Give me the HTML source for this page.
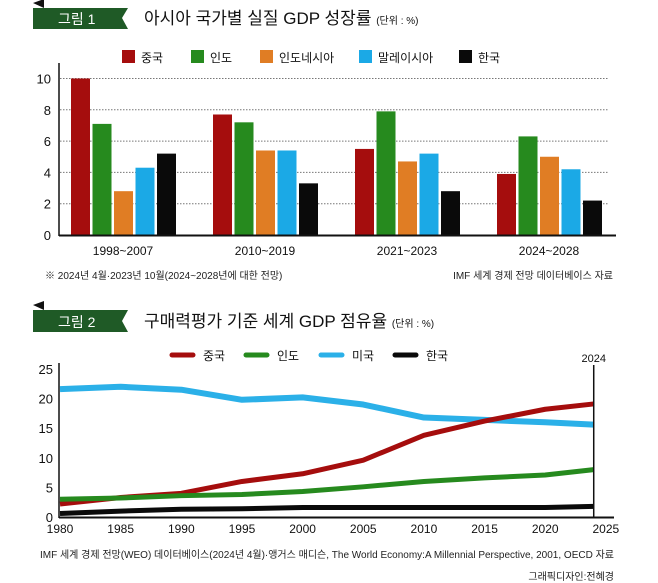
<!DOCTYPE html>
<html><head><meta charset="utf-8">
<style>
body{margin:0;background:#fff;width:658px;height:583px;overflow:hidden;font-family:"Liberation Sans","Noto Sans CJK KR",sans-serif;}
svg{display:block}
text{font-family:"Liberation Sans","Noto Sans CJK KR",sans-serif;}
</style></head>
<body>
<svg id="c" width="658" height="583">
  <g>
    <polygon points="33,3 44,-1 44,8" fill="#111"/>
    <polygon points="33,8 128,8 122,18 128,29 33,29" fill="#1f5a26"/>
    <text x="58" y="24" font-size="14" fill="#fff">그림 1</text>
  </g>
  <text x="144" y="24" font-size="17" fill="#111">아시아 국가별 실질 GDP 성장률 <tspan font-size="10">(단위 : %)</tspan></text>
  <g id="ch1"></g>
  <text x="45" y="279" font-size="10" fill="#222">※ 2024년 4월·2023년 10월(2024~2028년에 대한 전망)</text>
  <text x="613" y="279" font-size="10" fill="#222" text-anchor="end">IMF 세계 경제 전망 데이터베이스 자료</text>

  <g>
    <polygon points="33,305 44,301 44,310" fill="#111"/>
    <polygon points="33,310 128,310 122,321 128,332 33,332" fill="#1f5a26"/>
    <text x="58" y="327" font-size="14" fill="#fff">그림 2</text>
  </g>
  <text x="144" y="327" font-size="17" fill="#111">구매력평가 기준 세계 GDP 점유율 <tspan font-size="10">(단위 : %)</tspan></text>
  <g id="ch2"></g>
  <text x="614" y="558" font-size="10" fill="#222" text-anchor="end">IMF 세계 경제 전망(WEO) 데이터베이스(2024년 4월)·앵거스 매디슨, The World Economy:A Millennial Perspective, 2001, OECD 자료</text>
  <text x="614" y="580" font-size="10" fill="#222" text-anchor="end">그래픽디자인:전혜경</text>
</svg>
<script>
const NS='http://www.w3.org/2000/svg';
function mk(p,t,a){const e=document.createElementNS(NS,t);for(const k in a)e.setAttribute(k,a[k]);p.appendChild(e);return e;}

// Chart 1 data
const c1Groups=['1998~2007','2010~2019','2021~2023','2024~2028'];
const c1Series=['중국','인도','인도네시아','말레이시아','한국'];
const c1Colors=['#a50d0d','#268a1e','#e07d24','#1ba9e6','#0a0a0a'];
const china1=[10,7.7,5.5,3.9];
const india1=[7.1,7.2,7.9,6.3];
const indonesia1=[2.8,5.4,4.7,5.0];
const malaysia1=[4.3,5.4,5.2,4.2];
const korea1=[5.2,3.3,2.8,2.2];
const c1Ticks=[0,2,4,6,8,10];

const g1=document.getElementById('ch1');
const y1=v=>235-v*15.65;
const gx=i=>71+i*142;
c1Ticks.forEach(t=>{
  if(t>0){const l=mk(g1,'line',{x1:60,x2:609,y1:y1(t),y2:y1(t),stroke:'#777','stroke-width':1,'stroke-dasharray':'1.5,1.5'});
  
  }
  const tx=mk(g1,'text',{x:51,y:y1(t)+5,'font-size':13,'text-anchor':'end',fill:'#111'});tx.textContent=t;
  
  
});
const all1=[china1,india1,indonesia1,malaysia1,korea1];
all1.forEach((arr,s)=>{
  arr.forEach((v,i)=>{
    const x=gx(i)+s*21.5;
    const r=mk(g1,'rect',{x:x,y:y1(v),width:19,height:235-y1(v),fill:c1Colors[s]});
    
    
  });
});
const ax=mk(g1,'line',{x1:59,x2:59,y1:63,y2:236,stroke:'#111','stroke-width':1.5});


const bx=mk(g1,'line',{x1:59,x2:616,y1:235.5,y2:235.5,stroke:'#111','stroke-width':2});


c1Groups.forEach((g,i)=>{
  const t=mk(g1,'text',{x:gx(i)+52,y:255,'font-size':12,'text-anchor':'middle',fill:'#111'});t.textContent=g;
  
  
});
const lx1=[122,191,260,359,459];
c1Series.forEach((s,i)=>{
  const r=mk(g1,'rect',{x:lx1[i],y:50,width:13,height:13,fill:c1Colors[i]});
  
  
  const t=mk(g1,'text',{x:lx1[i]+19,y:62,'font-size':12,fill:'#111'});t.textContent=s;
  
  
});

// Chart 2 data
const years=[1980,1985,1990,1995,2000,2005,2010,2015,2020,2024];
const c2Names=['중국','인도','미국','한국'];
const c2Colors=['#a50d0d','#268a1e','#2bb0e8','#0a0a0a'];
const china2=[2.2,3.3,4.0,6.0,7.3,9.6,13.8,16.2,18.2,19.1];
const india2=[3.0,3.2,3.6,3.8,4.3,5.1,6.0,6.6,7.1,8.0];
const us2=[21.6,22.0,21.5,19.8,20.2,19.0,16.8,16.4,16.0,15.6];
const korea2=[0.6,1.0,1.3,1.4,1.6,1.6,1.6,1.6,1.6,1.8];
const xTicks2=[1980,1985,1990,1995,2000,2005,2010,2015,2020,2025];
const yTicks2=[0,5,10,15,20,25];

const g2=document.getElementById('ch2');
const X=yr=>60+(yr-1980)*12.13;
const Y=v=>517-v*5.92;
yTicks2.forEach(t=>{
  const tx=mk(g2,'text',{x:53,y:Y(t)+5,'font-size':13,'text-anchor':'end',fill:'#111'});tx.textContent=t;
  
  
});
xTicks2.forEach(t=>{
  const tx=mk(g2,'text',{x:X(t),y:533,'font-size':12,'text-anchor':'middle',fill:'#111'});tx.textContent=t;
  
  
});
[[us2,2,6],[china2,0,5],[india2,1,5],[korea2,3,5]].forEach(([arr,c,w])=>{
  const p=mk(g2,'polyline',{points:arr.map((v,i)=>X(years[i])+','+Y(v)).join(' '),fill:'none',stroke:c2Colors[c],'stroke-width':w,'stroke-linejoin':'round'});
  
  
});
const a2=mk(g2,'line',{x1:59,x2:59,y1:363,y2:518,stroke:'#111','stroke-width':1.5});


const b2=mk(g2,'line',{x1:59,x2:614,y1:517.5,y2:517.5,stroke:'#111','stroke-width':2});


const v24=mk(g2,'line',{x1:X(2024),x2:X(2024),y1:365,y2:518,stroke:'#111','stroke-width':1.5});


const t24=mk(g2,'text',{x:X(2024),y:362,'font-size':11,'text-anchor':'middle',fill:'#111'});t24.textContent='2024';


const lx2=[172,246,321,395];
c2Names.forEach((s,i)=>{
  const l=mk(g2,'line',{x1:lx2[i],x2:lx2[i]+21,y1:355,y2:355,stroke:c2Colors[i],'stroke-width':5,'stroke-linecap':'round'});
  
  
  const t=mk(g2,'text',{x:lx2[i]+31,y:360,'font-size':12,fill:'#111'});t.textContent=s;
  
  
});
</script>
</body></html>
